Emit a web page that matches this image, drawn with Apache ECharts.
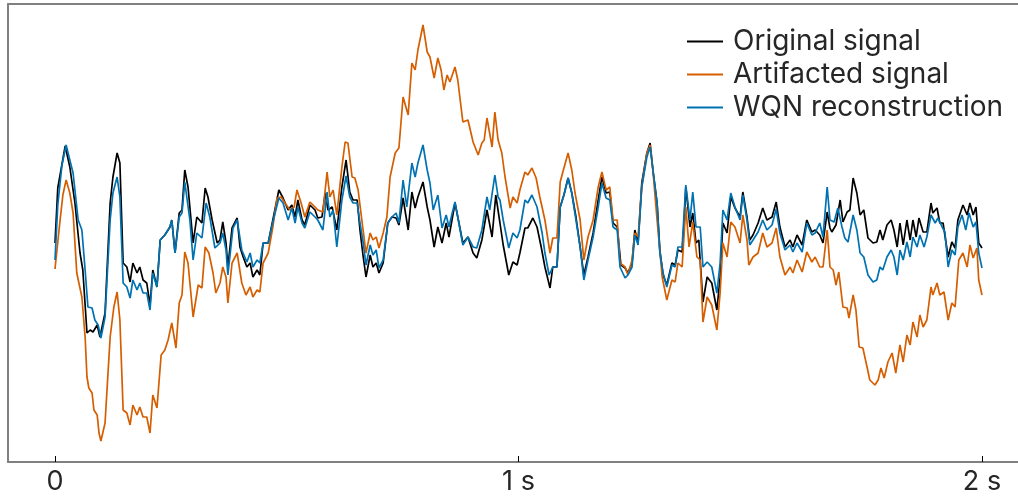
<!DOCTYPE html>
<html>
<head>
<meta charset="utf-8">
<script src="https://cdn.jsdelivr.net/npm/echarts@6/dist/echarts.min.js"></script>
<style>
html,body{margin:0;padding:0;background:#fff;}
#chart{width:1018px;height:499px;}
</style>
</head>
<body>
<div id="chart"></div>
<script>
// time in ms, amplitude in arbitrary units
const seriesNames = ['Original signal', 'Artifacted signal', 'WQN reconstruction'];
const tickValues = [0, 1000, 2000];
const tickLabels = ['0', '1 s', '2 s'];

const original = [[0,7],[6,62],[22,104],[32,83],[43,47],[54,-3],[60,-20],[69,-83],[76,-80],[82,-82],[91,-75],[97,-87],[108,-63],[119,47],[125,73],[134,97],[140,87],[147,-13],[155,-17],[162,-32],[168,-13],[177,-23],[183,-17],[190,-30],[198,-33],[205,-55],[211,-20],[220,-37],[227,10],[237,15],[248,23],[252,30],[259,-3],[268,37],[274,40],[280,80],[287,63],[298,7],[306,33],[317,27],[324,62],[330,53],[339,30],[350,7],[356,10],[362,28],[369,7],[373,-17],[382,22],[393,32],[399,3],[406,-7],[414,-17],[421,-13],[427,-27],[436,-20],[442,-25],[449,7],[460,7],[470,30],[483,60],[492,52],[496,53],[503,40],[511,45],[518,33],[524,50],[533,30],[539,25],[550,45],[561,40],[567,32],[576,33],[583,57],[589,40],[598,43],[608,20],[619,63],[628,90],[636,58],[643,50],[652,50],[658,20],[665,-7],[671,-27],[680,-5],[686,-17],[693,-13],[699,-23],[708,-13],[718,27],[727,33],[736,32],[742,25],[751,52],[762,20],[770,58],[777,42],[783,53],[794,68],[803,43],[809,30],[818,3],[826,23],[835,7],[844,27],[850,13],[863,47],[869,33],[880,7],[891,13],[902,-3],[910,-8],[921,10],[932,40],[943,13],[951,55],[960,27],[967,5],[979,-25],[988,-12],[997,-15],[1003,-3],[1014,22],[1020,22],[1031,32],[1040,23],[1049,3],[1057,-17],[1068,-38],[1074,-17],[1083,-17],[1090,43],[1098,55],[1107,72],[1115,57],[1124,33],[1133,3],[1141,-25],[1150,-7],[1161,17],[1172,50],[1180,73],[1189,57],[1197,58],[1204,27],[1213,23],[1221,-15],[1230,-18],[1236,-23],[1245,-13],[1251,20],[1258,7],[1266,67],[1277,97],[1284,107],[1290,80],[1299,47],[1305,0],[1312,-25],[1320,-35],[1331,-13],[1338,-15],[1344,0],[1353,-2],[1357,25],[1361,63],[1370,23],[1376,37],[1383,7],[1389,10],[1398,-52],[1407,-27],[1417,-33],[1428,-60],[1435,-27],[1441,27],[1450,17],[1458,53],[1467,42],[1478,33],[1484,58],[1493,33],[1499,10],[1506,15],[1517,27],[1527,42],[1536,30],[1547,33],[1556,48],[1564,23],[1575,3],[1586,10],[1592,3],[1601,15],[1612,5],[1622,30],[1633,18],[1640,20],[1650,15],[1657,7],[1666,38],[1672,22],[1676,18],[1685,25],[1694,50],[1700,28],[1709,38],[1715,40],[1722,72],[1730,57],[1737,35],[1745,40],[1754,12],[1765,7],[1773,8],[1780,20],[1786,10],[1795,25],[1804,30],[1810,20],[1817,3],[1823,27],[1830,5],[1838,30],[1845,10],[1851,30],[1858,13],[1864,32],[1873,18],[1881,18],[1890,47],[1894,37],[1903,42],[1909,27],[1916,27],[1927,-7],[1935,8],[1942,2],[1948,30],[1959,45],[1968,35],[1974,47],[1981,35],[1987,43],[1993,7],[2000,2]];

const artifacted = [[0,-19],[4,-18],[11,30],[17,55],[24,70],[32,57],[39,37],[47,-23],[58,-47],[65,-87],[69,-127],[73,-138],[80,-143],[84,-160],[91,-165],[95,-183],[99,-191],[108,-173],[119,-87],[127,-57],[134,-42],[140,-70],[147,-160],[155,-163],[162,-175],[168,-155],[177,-165],[183,-157],[190,-167],[198,-167],[205,-183],[211,-145],[220,-158],[229,-105],[237,-100],[244,-90],[252,-73],[261,-98],[268,-53],[274,-45],[280,-2],[287,-13],[298,-67],[309,-35],[317,-38],[324,3],[332,-3],[341,-23],[347,-43],[356,-33],[362,-17],[369,-27],[373,-53],[382,-13],[393,-3],[403,-33],[412,-45],[421,-37],[427,-47],[436,-40],[442,-42],[449,-13],[460,-3],[470,23],[479,52],[488,53],[496,47],[507,40],[516,43],[522,60],[531,47],[539,33],[550,48],[561,43],[567,40],[578,38],[587,78],[593,53],[600,60],[608,35],[619,83],[626,108],[632,107],[641,73],[647,72],[654,60],[662,30],[671,-3],[680,17],[686,10],[693,13],[699,2],[708,17],[716,33],[723,73],[734,97],[742,102],[751,153],[755,155],[762,135],[770,187],[777,180],[783,200],[794,225],[803,198],[809,193],[818,172],[826,192],[833,180],[839,160],[846,175],[852,168],[863,183],[869,170],[880,128],[891,130],[902,108],[913,95],[921,107],[926,110],[932,132],[943,103],[949,138],[956,110],[964,97],[971,73],[982,42],[988,53],[997,47],[1003,60],[1014,78],[1020,75],[1029,82],[1038,72],[1046,53],[1057,30],[1068,-3],[1074,12],[1083,12],[1090,68],[1098,82],[1107,97],[1115,80],[1122,57],[1133,30],[1141,-10],[1150,13],[1161,30],[1172,63],[1180,78],[1189,60],[1197,63],[1204,30],[1213,30],[1219,-13],[1230,-17],[1236,-25],[1245,-10],[1251,17],[1258,13],[1266,63],[1277,97],[1284,105],[1290,80],[1299,30],[1310,-27],[1320,-50],[1331,-30],[1338,-32],[1344,-13],[1353,-17],[1361,43],[1368,3],[1376,28],[1385,-7],[1392,-10],[1398,-72],[1407,-47],[1417,-55],[1428,-80],[1435,-43],[1441,7],[1450,-7],[1458,28],[1467,23],[1478,7],[1484,35],[1493,10],[1497,-15],[1506,-7],[1517,-3],[1527,17],[1536,3],[1547,7],[1556,22],[1564,-7],[1575,-25],[1586,-17],[1592,-23],[1601,-10],[1612,-22],[1622,-2],[1633,-12],[1640,-7],[1650,-17],[1657,-17],[1666,20],[1672,-17],[1679,-20],[1685,-35],[1691,-22],[1700,-57],[1709,-58],[1713,-68],[1722,-45],[1728,-60],[1735,-97],[1743,-98],[1752,-117],[1758,-130],[1769,-135],[1776,-130],[1782,-118],[1789,-128],[1797,-112],[1806,-103],[1814,-123],[1823,-95],[1830,-112],[1838,-85],[1845,-95],[1851,-72],[1860,-87],[1866,-65],[1873,-77],[1881,-70],[1890,-37],[1894,-45],[1903,-33],[1909,-45],[1918,-42],[1927,-70],[1935,-53],[1942,-57],[1950,-10],[1959,-3],[1968,-17],[1974,5],[1981,-8],[1989,2],[1993,-30],[2000,-45]];

const reconstruction = [[0,-10],[6,45],[15,85],[24,105],[32,90],[39,77],[50,30],[58,20],[65,-20],[71,-57],[80,-58],[86,-70],[93,-75],[99,-88],[108,-67],[119,30],[125,57],[134,73],[140,53],[147,-33],[155,-37],[162,-48],[168,-30],[177,-40],[183,-33],[190,-43],[198,-43],[205,-60],[211,-23],[220,-37],[227,10],[237,15],[248,23],[252,30],[259,-3],[268,33],[274,37],[280,68],[291,30],[298,-10],[306,17],[317,12],[326,47],[334,33],[345,2],[356,7],[362,17],[369,0],[373,-25],[384,22],[393,30],[403,0],[414,-12],[421,-3],[427,-17],[436,-10],[442,-13],[449,7],[460,7],[470,28],[483,52],[492,47],[496,48],[503,30],[511,42],[518,27],[524,43],[533,27],[539,22],[550,38],[561,33],[567,30],[578,20],[587,58],[593,33],[600,40],[608,3],[619,50],[628,74],[636,53],[643,47],[652,47],[658,27],[665,7],[671,-15],[680,5],[686,-5],[693,0],[699,-18],[708,-10],[718,27],[727,33],[736,37],[742,27],[751,70],[759,43],[770,87],[777,73],[783,87],[794,105],[803,80],[809,67],[816,40],[826,55],[835,22],[844,35],[850,23],[857,37],[863,48],[869,33],[880,5],[891,13],[902,3],[910,2],[921,20],[932,53],[938,40],[949,75],[956,53],[960,50],[967,30],[979,2],[988,17],[997,12],[1003,20],[1014,50],[1020,47],[1029,55],[1040,43],[1051,17],[1057,-3],[1066,-25],[1074,-17],[1083,-17],[1090,43],[1098,55],[1107,72],[1115,57],[1124,30],[1133,3],[1141,-30],[1150,-10],[1161,13],[1172,43],[1180,67],[1189,52],[1197,50],[1204,23],[1213,20],[1219,-17],[1230,-28],[1236,-25],[1245,-17],[1251,15],[1258,5],[1266,63],[1277,93],[1284,103],[1290,80],[1299,47],[1305,-3],[1312,-23],[1320,-37],[1331,-15],[1338,-17],[1344,3],[1353,3],[1361,65],[1370,30],[1376,58],[1383,23],[1392,23],[1398,-17],[1407,-12],[1417,-17],[1428,-43],[1435,-13],[1441,40],[1450,30],[1458,57],[1467,43],[1478,30],[1484,55],[1493,30],[1499,5],[1506,10],[1517,18],[1527,30],[1536,20],[1547,25],[1556,41],[1564,17],[1575,0],[1586,5],[1592,-2],[1601,7],[1612,-2],[1622,27],[1633,15],[1640,17],[1650,27],[1657,13],[1666,63],[1672,30],[1681,28],[1689,42],[1698,23],[1704,12],[1711,8],[1722,35],[1730,20],[1737,-3],[1745,-7],[1754,-25],[1765,-32],[1773,-30],[1780,-17],[1786,-20],[1795,-7],[1804,0],[1810,-7],[1817,-25],[1823,0],[1830,-10],[1838,8],[1845,-7],[1851,13],[1860,3],[1866,15],[1875,3],[1881,13],[1890,35],[1899,27],[1905,32],[1914,23],[1920,18],[1927,-17],[1935,0],[1942,-5],[1948,23],[1957,35],[1965,20],[1972,37],[1981,23],[1987,28],[1993,-3],[2000,-18]];

const colors = ['#000000', '#D55E00', '#0072B2'];
const seriesData = [original, artifacted, reconstruction];

const chart = echarts.init(document.getElementById('chart'), null, {renderer: 'canvas'});
chart.setOption({
  animation: false,
  textStyle: {fontFamily: 'Inter'},
  grid: {left: 8, top: 4, right: 0, bottom: 37, show: false},
  legend: {
    orient: 'vertical', left: 682, top: 20,
    icon: 'rect', itemWidth: 36, itemHeight: 2, itemGap: 0,
    textStyle: {fontFamily: 'Inter', fontSize: 28, lineHeight: 33, color: '#262626', padding: [0,0,0,5]},
    data: seriesNames
  },
  xAxis: [{
    type: 'value', min: -101.4, max: 2077.7, position: 'bottom',
    axisLine: {show: true, onZero: false, lineStyle: {color: '#808080', width: 2}},
    splitLine: {show: false},
    axisTick: {show: true, inside: true, length: 6, customValues: tickValues, lineStyle: {color: '#000', width: 1}},
    axisLabel: {show: true, customValues: tickValues, fontSize: 27, color: '#262626', fontFamily: 'Inter', margin: 6,
      formatter: function (v) { return tickLabels[tickValues.indexOf(v)] || ''; }}
  }, {
    type: 'value', min: -101.4, max: 2077.7, position: 'top',
    axisLine: {show: true, onZero: false, lineStyle: {color: '#808080', width: 2}},
    axisTick: {show: false}, axisLabel: {show: false}, splitLine: {show: false}
  }],
  yAxis: {
    type: 'value', min: -212, max: 246, position: 'left',
    axisLine: {show: true, onZero: false, lineStyle: {color: '#808080', width: 2}},
    axisTick: {show: false}, axisLabel: {show: false}, splitLine: {show: false}
  },
  series: seriesData.map(function (d, i) {
    return {
      name: seriesNames[i], type: 'line', data: d, symbol: 'none', xAxisIndex: 0,
      lineStyle: {color: colors[i], width: 1.7}, itemStyle: {color: colors[i]}
    };
  })
});
</script>
</body>
</html>
